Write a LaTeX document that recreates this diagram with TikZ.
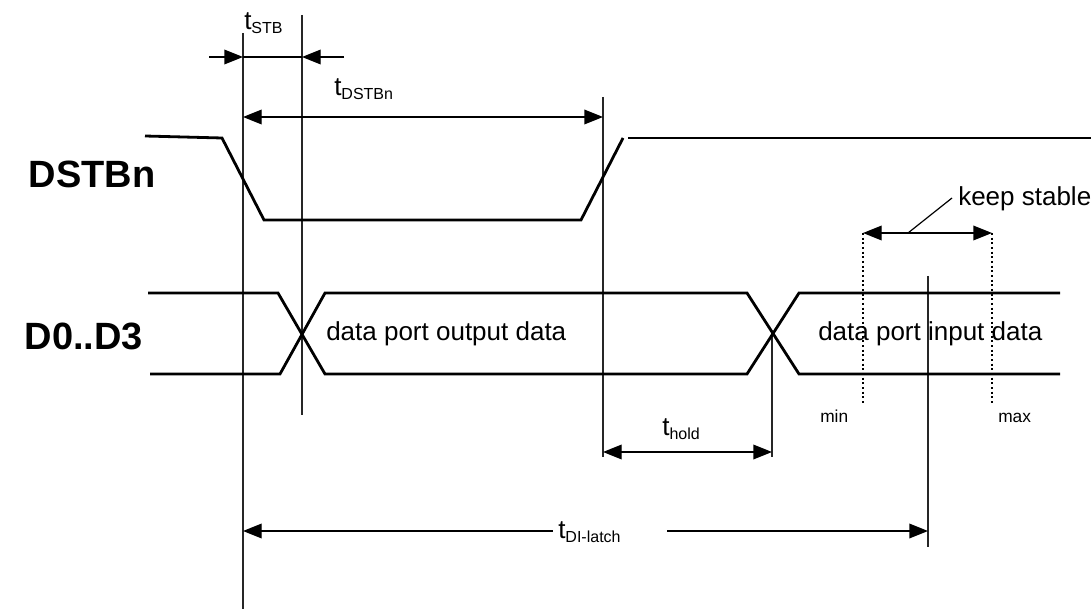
\documentclass[tikz,border=0pt]{standalone}
\usepackage{fontspec}
\setmainfont{Liberation Sans}
\usetikzlibrary{arrows.meta}

\newcommand{\subfnt}{\fontsize{12}{12}\selectfont}
\newcommand{\tlabel}[1]{t\raisebox{-3pt}{\subfnt #1}}

\tikzset{
  signal/.style={line width=2.1pt, line cap=butt, line join=miter},
  marker/.style={line width=0.9pt, black!85},
  tip/.tip={Triangle[length=14pt,width=11pt]},
  dimline/.style={line width=1pt, tip-tip},
  dimin/.style={line width=1pt, -tip},
  dimout/.style={line width=1pt, tip-},
  dotline/.style={line width=1.5pt, dotted},
  txt/.style={inner sep=0pt, anchor=base west, font=\fontsize{19.5}{22}\selectfont},
  small/.style={inner sep=0pt, anchor=base west, font=\fontsize{13}{15}\selectfont},
  sig/.style={inner sep=0pt, font=\bfseries\fontsize{28.5}{32}\selectfont}
}

\begin{document}
\begin{tikzpicture}[x=0.75pt,y=-0.75pt]
\useasboundingbox (0,0) rectangle (1091,609);

% reference lines
\coordinate (v1t) at (243,33);   \coordinate (v1b) at (243,609);
\coordinate (v2t) at (302,15);   \coordinate (v2b) at (302,415);
\coordinate (v3t) at (603,97);   \coordinate (v3b) at (603,457);
\coordinate (v4t) at (772,333);  \coordinate (v4b) at (772,457);
\coordinate (v5t) at (928,276);  \coordinate (v5b) at (928,547);
\draw[marker] (v1t) -- (v1b);
\draw[marker] (v2t) -- (v2b);
\draw[marker] (v3t) -- (v3b);
\draw[marker] (v4t) -- (v4b);
\draw[marker] (v5t) -- (v5b);

% DSTBn strobe
\draw[signal] (145,136) -- (222,138) -- (264,220) -- (581,220) -- (623,138);
\draw[signal] (628,138) -- (1091,138);

% D0..D3 data bus
\draw[signal] (148,293) -- (278,293) -- (325,374) -- (747,374) -- (799,293) -- (1060,293);
\draw[signal] (150,374) -- (280,374) -- (325,293) -- (747,293) -- (799,374) -- (1060,374);

% signal names
\node[sig] (nDSTB) at (92,174) {DSTBn};
\node[sig] (nD) at (84,336) {D0..D3};

% data labels
\node[txt] (out) at (326,340) {data port output data};
\node[txt] (in) at (818,340) {data port input data};

% t_STB
\coordinate (stbL) at (209,57);  \coordinate (stbA) at (243,57);
\coordinate (stbB) at (302,57);  \coordinate (stbR) at (344,57);
\draw[dimin] (stbL) -- (stbA);
\draw[line width=1pt] (stbA) -- (stbB);
\draw[dimin] (stbR) -- (stbB);
\node[txt] (lstb) at (244,30) {\tlabel{STB}};

% t_DSTBn
\coordinate (dsA) at (243,117); \coordinate (dsB) at (603,117);
\draw[dimline] (dsA) -- (dsB);
\node[txt] (ldstb) at (334,96) {\tlabel{DSTBn}};

% keep stable window
\coordinate (ksA) at (863,233); \coordinate (ksB) at (992,233);
\coordinate (ksM) at (908,233); \coordinate (ksL) at (952,198);
\draw[dimline] (ksA) -- (ksB);
\draw[line width=0.9pt] (ksM) -- (ksL);
\node[txt] (lks) at (958,206) {keep stable};
\coordinate (minb) at (863,404); \coordinate (maxb) at (992,404);
\draw[dotline] (ksA) -- (minb);
\draw[dotline] (ksB) -- (maxb);
\node[small] (lmin) at (820,422) {min};
\node[small] (lmax) at (998,422) {max};

% t_hold
\coordinate (hA) at (603,452); \coordinate (hB) at (772,452);
\draw[dimline] (hA) -- (hB);
\node[txt] (lhold) at (662,435) {\tlabel{hold}};

% t_DI-latch
\coordinate (lA) at (243,531); \coordinate (lB) at (928,531);
\coordinate (lg1) at (553,531); \coordinate (lg2) at (667,531);
\draw[dimout] (lA) -- (lg1);
\draw[dimin] (lg2) -- (lB);
\node[txt] (llatch) at (558,538) {\tlabel{DI-latch}};
\end{tikzpicture}
\end{document}
